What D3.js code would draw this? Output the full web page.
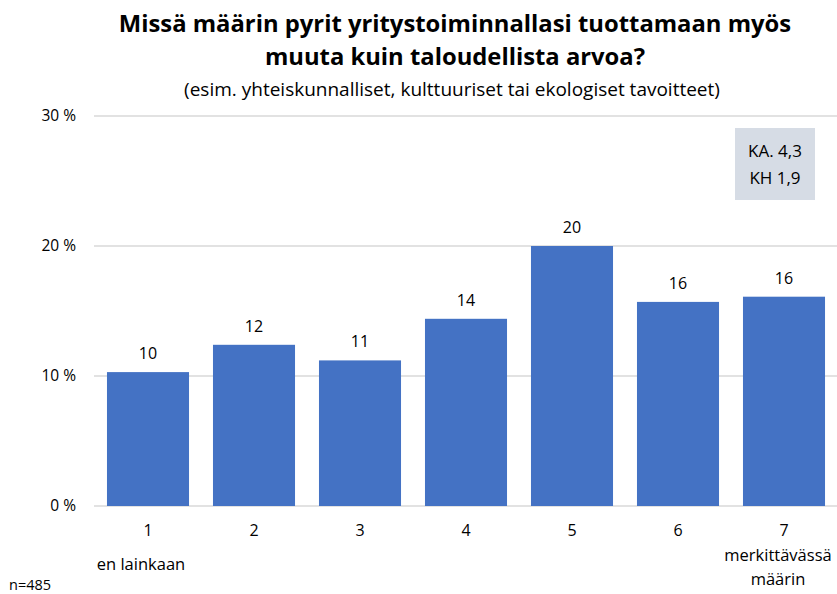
<!DOCTYPE html>
<html><head><meta charset="utf-8">
<script src="https://cdn.jsdelivr.net/npm/d3@7"></script>
<style>body{margin:0;background:#fff}svg{display:block}text{font-family:"Open Sans",sans-serif;fill:#000}</style>
</head><body><svg id="c" width="837" height="594"></svg>
<script>
const categories = ["1","2","3","4","5","6","7"];
const values = [10.3, 12.4, 11.2, 14.4, 20.0, 15.7, 16.1];
const valueLabels = ["10","12","11","14","20","16","16"];
const yTicks = [0, 10, 20, 30];
const titleLines = ["Missä määrin pyrit yritystoiminnallasi tuottamaan myös","muuta kuin taloudellista arvoa?"];
const subtitle = "(esim. yhteiskunnalliset, kulttuuriset tai ekologiset tavoitteet)";
const statLines = ["KA. 4,3","KH 1,9"];
const endLabels = {"1":["en lainkaan"],"7":["merkittävässä","määrin"]};
const note = "n=485";

const svg = d3.select("#c");
const x = d3.scaleBand().domain(categories).range([95,837]).paddingInner(0.226).paddingOuter(0.113);
const y = d3.scaleLinear().domain([0,30]).range([506,116]);

// gridlines
svg.append("g").selectAll("line").data(yTicks).join("line")
  .attr("x1",94).attr("x2",837).attr("y1",d=>y(d)).attr("y2",d=>y(d))
  .attr("stroke","#d9d9d9").attr("stroke-width",1.3);

// y labels
const ya = svg.append("g").attr("transform","translate(76,0)")
  .call(d3.axisLeft(y).tickValues(yTicks).tickSize(0).tickPadding(0).tickFormat(d=>d+" %"));
ya.select(".domain").remove();
ya.selectAll("text").style("font-size","15.5px").attr("font-family",null).attr("fill","#000");

// bars
svg.append("g").selectAll("rect").data(values).join("rect")
  .attr("x",(d,i)=>x(categories[i])).attr("width",x.bandwidth())
  .attr("y",d=>y(d)).attr("height",d=>y(0)-y(d)).attr("fill","#4472c4");

// value labels
svg.append("g").selectAll("text").data(values).join("text")
  .attr("x",(d,i)=>x(categories[i])+x.bandwidth()/2).attr("y",d=>y(d)-13)
  .attr("text-anchor","middle").style("font-size","16px").text((d,i)=>valueLabels[i]);

// x axis labels
const xa = svg.append("g").attr("transform","translate(0,506)")
  .call(d3.axisBottom(x).tickSize(0).tickPadding(0));
xa.select(".domain").remove();
xa.selectAll("text").style("font-size","16px").attr("font-family",null).attr("fill","#000").attr("dy",null).attr("y",30);

const endOffset = {"1":-7,"7":-6};
Object.entries(endLabels).forEach(([c,lines])=>{
  const n = lines.length;
  lines.forEach((t,k)=>{
    svg.append("text").attr("x",x(c)+x.bandwidth()/2+endOffset[c])
      .attr("y", n===1 ? 570 : 561+k*24).attr("text-anchor","middle").style("font-size","16.5px").text(t);
  });
});

// title
titleLines.forEach((t,k)=>svg.append("text").attr("x",455).attr("y",32+k*33)
  .attr("text-anchor","middle").style("font-size","23.8px").attr("font-weight","bold").text(t));
svg.append("text").attr("x",452).attr("y",96).attr("text-anchor","middle").style("font-size","19px").text(subtitle);

// stats box
svg.append("rect").attr("x",735).attr("y",128).attr("width",80).attr("height",72).attr("fill","#d6dce5");
statLines.forEach((t,k)=>svg.append("text").attr("x",775).attr("y",157+k*27)
  .attr("text-anchor","middle").style("font-size","17px").text(t));

svg.append("text").attr("x",9).attr("y",590).style("font-size","14.5px").text(note);
</script></body></html>
